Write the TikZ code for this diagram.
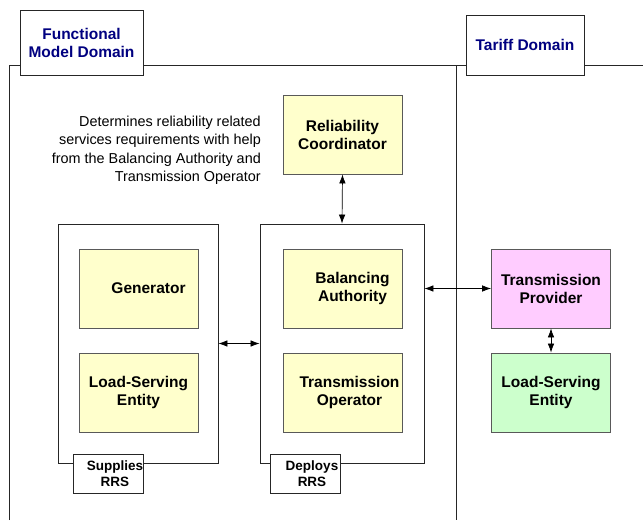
\documentclass[tikz,border=0pt]{standalone}
\usepackage{fontspec}
\setmainfont{Liberation Sans}
\usetikzlibrary{arrows.meta}
\definecolor{roleyellow}{HTML}{FFFFCC}
\definecolor{rolepink}{HTML}{FFCCFF}
\definecolor{rolegreen}{HTML}{CCFFCC}
\definecolor{domainblue}{HTML}{000080}
\tikzset{
  roletext/.style={align=center, inner sep=0pt, font=\bfseries\fontsize{15.5}{18}\selectfont},
  role/.style={draw=black!65, line width=0.8pt, fill=roleyellow, minimum width=119pt,
    minimum height=79pt, roletext},
  groupbox/.style={draw=black!85, line width=0.8pt, minimum width=#1, minimum height=239pt, inner sep=0pt},
  tagtext/.style={align=center, inner sep=0pt, font=\bfseries\fontsize{13.5}{16}\selectfont},
  tagbox/.style={draw=black!85, line width=0.8pt, fill=white, minimum width=70pt, minimum height=39pt,
    inner sep=0pt},
  domainbox/.style={draw=black!85, line width=0.8pt, fill=white, inner sep=0pt, align=center,
    text=domainblue, font=\bfseries\fontsize{15.5}{18}\selectfont},
  link/.style={{Latex[length=9pt,width=6.5pt]}-{Latex[length=9pt,width=6.5pt]}, line width=0.7pt}
}
\begin{document}
\begin{tikzpicture}[x=1pt,y=-1pt]
  \useasboundingbox (0,0) rectangle (643,520);
  % domain borders
  \draw[line width=0.8pt, black!85] (9,520) -- (9,65) -- (643,65);
  \draw[line width=0.8pt, black!85] (456,65) -- (456,520);
  \node[domainbox, minimum width=123pt, minimum height=65pt] (fmd) at (81.5,42.5) {Functional\\Model Domain};
  \node[domainbox, minimum width=118pt, minimum height=60pt] (tariff) at (525,45) {Tariff Domain};

  % functional model side
  \node[role] (rc) at (342.5,134.5) {Reliability\\Coordinator};
  \node[align=right, anchor=north east, inner sep=0pt,
    font=\fontsize{14.4}{18.3}\selectfont] (note) at (261,116)
    {Determines reliability related\\services requirements with help\\from the Balancing Authority and\\Transmission Operator};

  \node[groupbox=160pt] (supply) at (138,343.5) {};
  \node[groupbox=164pt] (deploy) at (342,343.5) {};
  \node[role, label={[roletext, xshift=10pt]center:Generator}] (gen) at (138.5,288.5) {};
  \node[role] (lse) at (138.5,392.5) {Load-Serving\\Entity};
  \node[role, label={[roletext, xshift=10pt]center:Balancing\\Authority}] (ba) at (342.5,288.5) {};
  \node[role, label={[roletext, xshift=7pt]center:Transmission\\Operator}] (top) at (342.5,392.5) {};
  \node[tagbox, label={[tagtext, xshift=7pt]center:Supplies\\RRS}] (supplies) at (108,473.5) {};
  \node[tagbox, label={[tagtext, xshift=7pt]center:Deploys\\RRS}] (deploys) at (305,473.5) {};

  % tariff side
  \node[role, fill=rolepink] (tp) at (551,288.5) {Transmission\\Provider};
  \node[role, fill=rolegreen] (tlse) at (551,392.5) {Load-Serving\\Entity};

  % connectors
  \draw[link] (rc.south) -- (deploy.north);
  \draw[link] (supply.east) -- (deploy.west);
  \draw[link] (deploy.east |- tp.west) -- (tp.west);
  \draw[link] (tp.south) -- (tlse.north);
\end{tikzpicture}
\end{document}
